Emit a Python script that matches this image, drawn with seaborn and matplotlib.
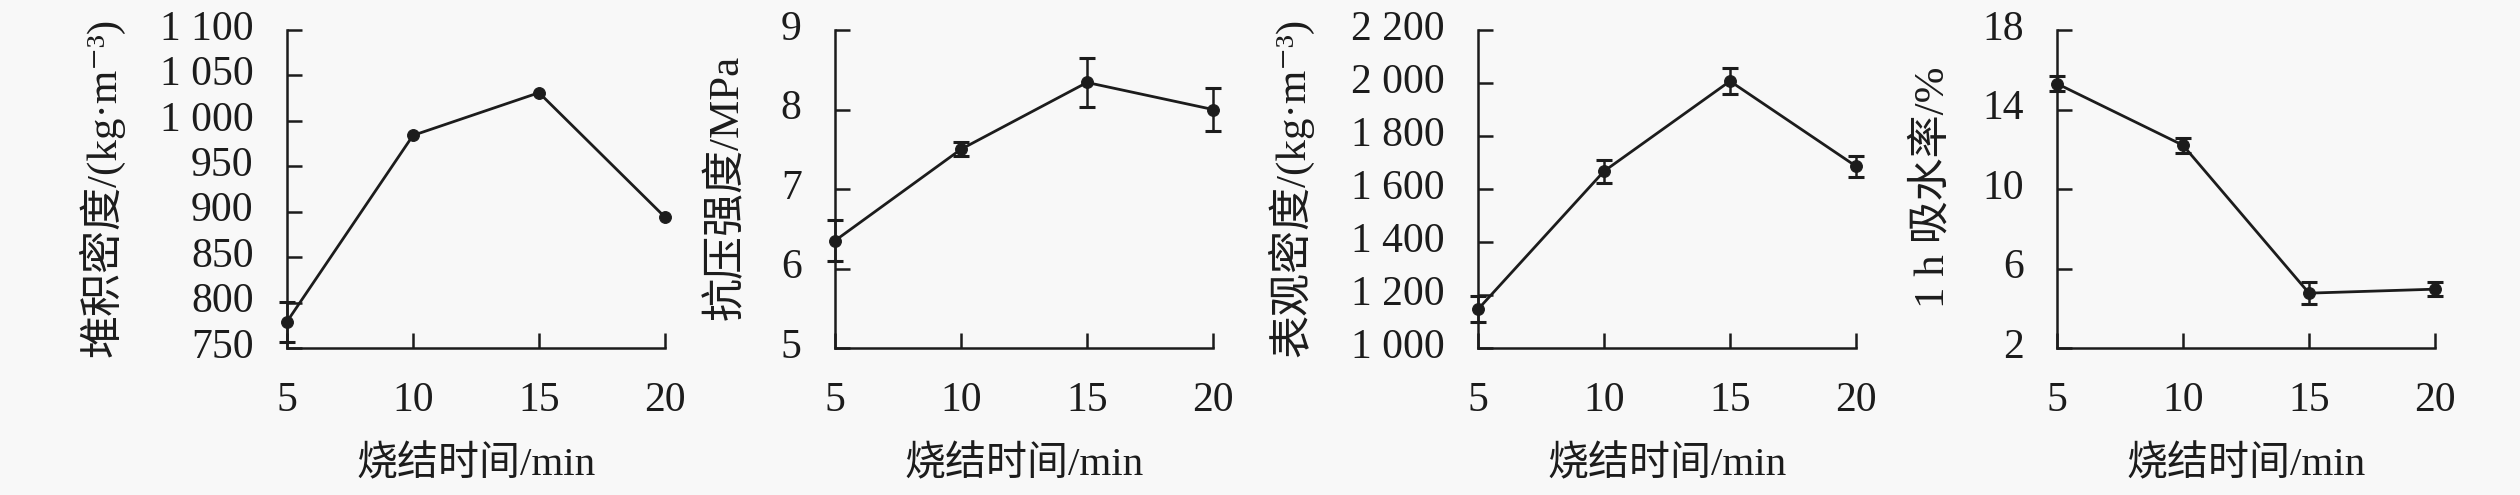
import numpy as np
import pandas as pd
import matplotlib
matplotlib.use("Agg")
import matplotlib.pyplot as plt
import matplotlib.ticker as mticker
import matplotlib.transforms as mtransforms
import seaborn as sns

# sintering time (min)
sinter_time = [5, 10, 15, 20]

# panel values (mean, error)
bulk_density = [779, 984, 1031, 894]
bulk_density_err = [22, np.nan, np.nan, np.nan]
strength = [6.35, 7.50, 8.34, 8.00]
strength_err = [0.26, 0.09, 0.31, 0.27]
app_density = [1146, 1667, 2007, 1686]
app_density_err = [49, 44, 48, 39]
water_abs = [15.3, 12.2, 4.76, 4.96]
water_abs_err = [0.38, 0.38, 0.54, 0.36]

ylabels = ["堆积密度/(kg·m⁻³)", "抗压强度/MPa", "表观密度/(kg·m⁻³)", "1 h 吸水率/%"]
xlabel = "烧结时间/min"
ylims = [(750, 1100), (5, 9), (1000, 2200), (2, 18)]
ysteps = [50, 1, 200, 4]

sns.set_theme(style="ticks")
bg = "#f8f8f8"
ink = "#1c1c1c"
plt.rcParams["font.family"] = ["Liberation Serif", "Noto Sans CJK SC", "DejaVu Serif"]

fig = plt.figure(figsize=(25.2, 4.95), dpi=100, facecolor=bg)

W, H = 2520, 495
lefts = [287, 835, 1478, 2057]
ylab_x = [-0.492, -0.288, -0.497, -0.328]
ax_w = 378
bottom, top = 348, 30

series = [(bulk_density, bulk_density_err), (strength, strength_err),
          (app_density, app_density_err), (water_abs, water_abs_err)]


def thousands(v, pos):
    return f"{v:,.0f}".replace(",", " ")


# reference tick labels sit a few pixels above their ticks
lift = mtransforms.ScaledTranslation(0, 5 / 100, fig.dpi_scale_trans)

for i, (vals, errs) in enumerate(series):
    ax = fig.add_axes([lefts[i] / W, 1 - bottom / H, ax_w / W, (bottom - top) / H])
    ax.set_facecolor(bg)
    df = pd.DataFrame({"t": sinter_time, "v": vals})
    sns.lineplot(data=df, x="t", y="v", ax=ax, color=ink, linewidth=2.0,
                 marker="o", markersize=8.5, markeredgecolor=ink, clip_on=False, zorder=3)
    ax.errorbar(sinter_time, vals, yerr=errs, fmt="none", ecolor=ink,
                elinewidth=1.8, capsize=6, capthick=2.2, clip_on=False, zorder=3)
    ax.set_xlim(5, 20)
    ax.set_ylim(*ylims[i])
    ax.set_xticks(sinter_time)
    ax.set_yticks(np.arange(ylims[i][0], ylims[i][1] + ysteps[i] / 2, ysteps[i]))
    if i in (0, 2):
        ax.yaxis.set_major_formatter(mticker.FuncFormatter(thousands))
    sns.despine(ax=ax)
    for s in ("left", "bottom"):
        ax.spines[s].set_linewidth(1.8)
        ax.spines[s].set_color(ink)
    ax.tick_params(direction="in", length=11, width=1.8, color=ink,
                   labelsize=30, pad=24, labelcolor=ink)
    for lab in ax.get_yticklabels():
        lab.set_transform(lab.get_transform() + lift)
    ax.set_xlabel(xlabel, fontsize=29.5, color=ink, va="center")
    ax.xaxis.set_label_coords(0.5, -0.368)
    ax.set_ylabel(ylabels[i], fontsize=31, color=ink, va="center")
    ax.yaxis.set_label_coords(ylab_x[i], 0.505)

fig.savefig("out.png", dpi=100, facecolor=bg)
